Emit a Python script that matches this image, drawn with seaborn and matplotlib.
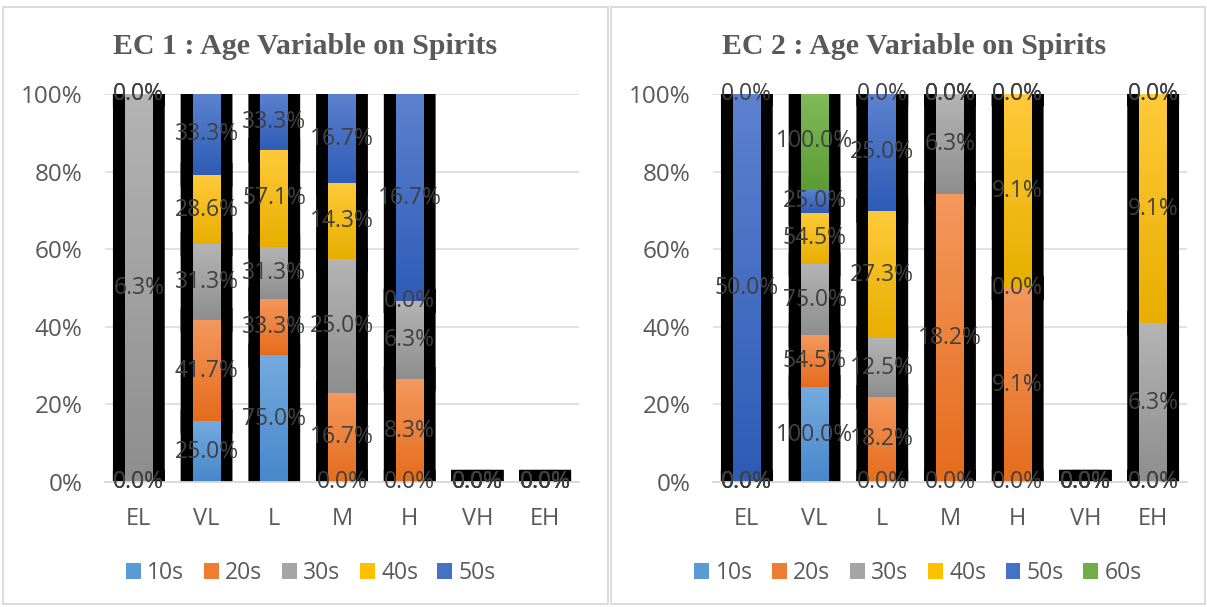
import numpy as np
import pandas as pd
import matplotlib
matplotlib.use("Agg")
import matplotlib.pyplot as plt
import seaborn as sns
from matplotlib.colors import LinearSegmentedColormap
from matplotlib.patches import Patch, Rectangle

# Response levels on the x axis
levels = ["EL", "VL", "L", "M", "H", "VH", "EH"]

# EC 1: share of each age group (%) falling in each level
ec1_10s = [0.0, 25.0, 75.0, 0.0, 0.0, 0.0, 0.0]
ec1_20s = [0.0, 41.7, 33.3, 16.7, 8.3, 0.0, 0.0]
ec1_30s = [6.3, 31.3, 31.3, 25.0, 6.3, 0.0, 0.0]
ec1_40s = [0.0, 28.6, 57.1, 14.3, 0.0, 0.0, 0.0]
ec1_50s = [0.0, 33.3, 33.3, 16.7, 16.7, 0.0, 0.0]

# EC 2: share of each age group (%) falling in each level
ec2_10s = [0.0, 100.0, 0.0, 0.0, 0.0, 0.0, 0.0]
ec2_20s = [0.0, 54.5, 18.2, 18.2, 9.1, 0.0, 0.0]
ec2_30s = [0.0, 75.0, 12.5, 6.3, 0.0, 0.0, 6.3]
ec2_40s = [0.0, 54.5, 27.3, 0.0, 9.1, 0.0, 9.1]
ec2_50s = [50.0, 25.0, 25.0, 0.0, 0.0, 0.0, 0.0]
ec2_60s = [0.0, 100.0, 0.0, 0.0, 0.0, 0.0, 0.0]

ages = ["10s", "20s", "30s", "40s", "50s", "60s"]
# (flat, light top, dark bottom) per age group
palette = {
    "10s": ("#5B9BD5", "#74AADF", "#4788CB"),
    "20s": ("#ED7D31", "#F4985D", "#E56C1C"),
    "30s": ("#A5A5A5", "#B4B4B4", "#8E8E8E"),
    "40s": ("#FFC000", "#FFCA3A", "#E8AE00"),
    "50s": ("#4472C4", "#5C82CF", "#2E5CB6"),
    "60s": ("#70AD47", "#80BA5B", "#5C9C34"),
}

sns.set_theme(style="white")
plt.rcParams["font.family"] = ["Open Sans", "DejaVu Sans"]

TXT = "#595959"
LBL = "#404040"
GRID = "#D9D9D9"
BAR_W = 0.41
EDGE_LW = 17.3

fig = plt.figure(figsize=(12.07, 6.07), dpi=100)
fig.patch.set_facecolor("white")

panels = [
    ("EC 1 : Age Variable on Spirits", [ec1_10s, ec1_20s, ec1_30s, ec1_40s, ec1_50s],
     0.08699, 305 / 1207, 311 / 1207, (3, 608)),
    ("EC 2 : Age Variable on Spirits", [ec2_10s, ec2_20s, ec2_30s, ec2_40s, ec2_50s, ec2_60s],
     0.59072, 914 / 1207, 918 / 1207, (611, 1205)),
]


def shade(ax, patch, top, bottom):
    h = patch.get_height()
    if h <= 0:
        return
    x0, y0, w = patch.get_x(), patch.get_y(), patch.get_width()
    cmap = LinearSegmentedColormap.from_list("seg", [bottom, top])
    grad = np.linspace(0, 1, 64).reshape(-1, 1)
    im = ax.imshow(grad, cmap=cmap, aspect="auto", origin="lower",
                   extent=(x0, x0 + w, y0, y0 + h), interpolation="bilinear",
                   zorder=1.5)
    im.set_clip_path(patch)


for title, series, left, title_x, legend_x, (px0, px1) in panels:
    ax = fig.add_axes([left, 0.20593, 0.39271, 0.63921])
    names = ages[:len(series)]
    vals = np.array(series, dtype=float)
    totals = vals.sum(axis=0)
    shares = np.divide(vals * 100, totals, out=np.zeros_like(vals), where=totals > 0)
    bottoms = np.vstack([np.zeros(len(levels)), np.cumsum(shares, axis=0)[:-1]])

    # thick black frame behind every segment
    for k in range(len(names)):
        n0 = len(ax.patches)
        df = pd.DataFrame({"level": levels, "share": shares[k]})
        sns.barplot(data=df, x="level", y="share", order=levels, color="black",
                    saturation=1, width=BAR_W, bottom=bottoms[k], errorbar=None,
                    edgecolor="black", linewidth=EDGE_LW, ax=ax)
        for p in ax.patches[n0:]:
            p.set_joinstyle("miter")
            p.set_snap(False)
            if p.get_height() == 0:
                # keep the outline of empty segments square-cornered
                p.set_height(0.01)

    # coloured segments
    for k, name in enumerate(names):
        n0 = len(ax.patches)
        df = pd.DataFrame({"level": levels, "share": shares[k]})
        sns.barplot(data=df, x="level", y="share", order=levels,
                    color=palette[name][0], saturation=1, width=BAR_W,
                    bottom=bottoms[k], errorbar=None, linewidth=0,
                    edgecolor="none", ax=ax)
        for p in ax.patches[n0:]:
            shade(ax, p, palette[name][1], palette[name][2])

    # value labels at segment centres
    for k in range(len(names)):
        for i in range(len(levels)):
            ax.text(i, bottoms[k][i] + shares[k][i] / 2, f"{vals[k][i]:.1f}%",
                    ha="center", va="center", fontsize=16.5, color=LBL, zorder=3)

    ax.set_xlim(-0.5, len(levels) - 0.5)
    ax.set_ylim(0, 100)
    ax.set_yticks(range(0, 101, 20))
    ax.set_yticklabels([f"{t}%" for t in range(0, 101, 20)])
    ax.set_xlabel("")
    ax.set_ylabel("")
    ax.set_axisbelow(True)
    ax.grid(axis="y", color=GRID, linewidth=1.1)
    ax.grid(axis="x", visible=False)
    for s in ["top", "right", "left"]:
        ax.spines[s].set_visible(False)
    ax.spines["bottom"].set_color(GRID)
    ax.spines["bottom"].set_linewidth(1.3)
    ax.tick_params(axis="y", length=0, pad=16, labelsize=17.5, labelcolor=TXT)
    ax.tick_params(axis="x", length=0, pad=18, labelsize=17, labelcolor=TXT)
    ax.set_facecolor("white")

    fig.text(title_x, 1 - 47 / 607, title, ha="center", va="center",
             fontsize=21.5, fontweight="bold", color=TXT, family="Liberation Serif")

    handles = [Patch(facecolor=palette[n][0], edgecolor="none") for n in names]
    fig.legend(handles, names, loc="center", bbox_to_anchor=(legend_x, 1 - 573 / 607),
               ncol=len(names), frameon=False, fontsize=16.5, labelcolor=TXT,
               handlelength=0.65, handleheight=0.65, handletextpad=0.28,
               columnspacing=0.85)

    fig.add_artist(Rectangle((px0 / 1207, 1 - 604 / 607), (px1 - px0) / 1207, 597 / 607,
                             transform=fig.transFigure, fill=False,
                             edgecolor=GRID, linewidth=1.3))

fig.savefig("out.png", dpi=100, facecolor="white")
